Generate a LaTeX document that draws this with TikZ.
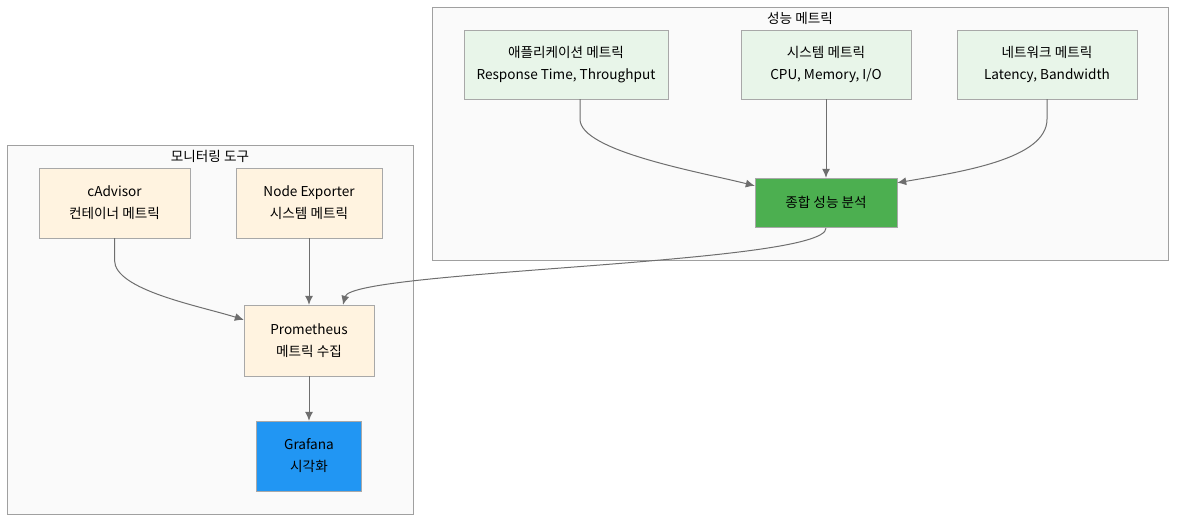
\documentclass[tikz,border=0pt]{standalone}
\usepackage{fontspec}
\setmainfont{Noto Sans CJK KR}
\usepackage{tikz}
\usetikzlibrary{arrows.meta}

\definecolor{grpfill}{HTML}{FAFAFA}
\definecolor{grpline}{HTML}{A0A0A0}
\definecolor{boxline}{HTML}{A8A8A8}
\definecolor{greenlt}{HTML}{E8F5E9}
\definecolor{orangelt}{HTML}{FFF3E0}
\definecolor{greendk}{HTML}{4CAF50}
\definecolor{bluedk}{HTML}{2196F3}
\definecolor{edgecol}{HTML}{6E6E6E}

\begin{document}
\begin{tikzpicture}[x=1pt, y=-1pt, >={Latex[length=9pt,width=8pt]},
        group/.style={draw=grpline, fill=grpfill, line width=.8pt},
        metric/.style={draw=boxline, fill=greenlt, align=center, inner sep=0pt, font=\fontsize{13.6}{22}\selectfont},
        tool/.style={metric, fill=orangelt},
        edge/.style={->, draw=edgecol, line width=1pt}]
            \useasboundingbox (0, 0) rectangle (1184, 526);
            % groups
            \draw[group] (432, 7) rectangle (1168, 260);
            \node (perftitle) at (800, 18) {\fontsize{13.6}{16}\selectfont 성능 메트릭};
            \draw[group] (7, 145) rectangle (413, 514);
            \node (montitle) at (210, 156) {\fontsize{13.6}{16}\selectfont 모니터링 도구};
            % metric nodes
            \node[metric, minimum width=204, minimum height=69] (app) at (566, 64.5) {애플리케이션 메트릭\\Response Time, Throughput};
            \node[metric, minimum width=170, minimum height=69] (sys) at (826, 64.5) {시스템 메트릭\\CPU, Memory, I/O};
            \node[metric, minimum width=180, minimum height=69] (net) at (1047, 64.5) {네트워크 메트릭\\Latency, Bandwidth};
            \node[metric, fill=greendk, minimum width=142, minimum height=49] (sum) at (826, 202.5) {종합 성능 분석};
            % tool nodes
            \node[tool, minimum width=151, minimum height=70] (cadv) at (114.5, 203) {cAdvisor\\컨테이너 메트릭};
            \node[tool, minimum width=146, minimum height=70] (nodeexp) at (309, 203) {Node Exporter\\시스템 메트릭};
            \node[tool, minimum width=130, minimum height=71] (prom) at (309, 340.5) {Prometheus\\메트릭 수집};
            \node[tool, fill=bluedk, minimum width=105, minimum height=70] (graf) at (309, 456) {Grafana\\시각화};
            % connectors
            \draw[edge] ([xshift=14pt]app.south) -- ++(0, 20) .. controls +(0, 32) and (700, 172) .. ([yshift=-8pt]sum.north west);
            \draw[edge] (sys) -- (sum);
            \draw[edge] (net.south) -- ++(0, 20) .. controls +(0, 40) and (960, 172) .. ([yshift=-5pt]sum.north east);
            \draw[edge] ([yshift=-1pt]sum.south) .. controls +(0, 36) and (352, 270) .. ([xshift=34pt]prom.north);
            \draw[edge] (cadv.south) -- ++(0, 22) .. controls +(0, 30) and (200, 306) .. ([yshift=-15pt]prom.north west);
            \draw[edge] (nodeexp) -- (prom);
            \draw[edge] (prom) -- (graf);
        \end{tikzpicture}
\end{document}
